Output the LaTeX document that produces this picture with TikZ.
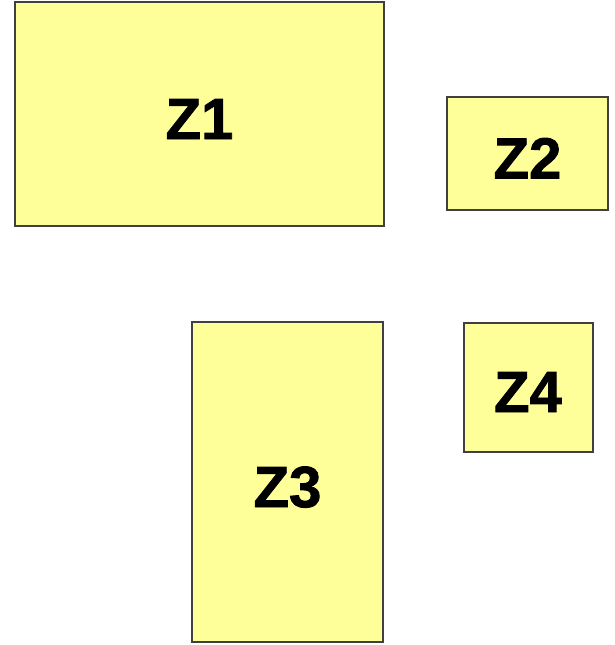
\documentclass[tikz,border=0pt]{standalone}
\usepackage{fontspec}
\setmainfont{Liberation Sans}[BoldFeatures={FakeBold=1.5}]
\definecolor{zone-fill}{HTML}{FFFF99}
\definecolor{zone-line}{HTML}{404040}

\begin{document}
\begin{tikzpicture}[x=1pt, y=-1pt,
    every node/.style={font=\fontsize{58}{60}\selectfont\bfseries},
    zone/.style={draw=zone-line, line width=2pt, fill=zone-fill,
      inner sep=0pt, text height=50pt, text depth=0pt}]
  \useasboundingbox (0, 0) rectangle (615, 645);
  \node[zone, minimum width=369pt, minimum height=224pt] (z1) at (199.5, 114) {Z1};
  \node[zone, minimum width=161pt, minimum height=113pt] (z2) at (527.5, 153.5) {Z2};
  \node[zone, minimum width=191pt, minimum height=320pt] (z3) at (287.5, 482) {Z3};
  \node[zone, minimum width=129pt, minimum height=129pt] (z4) at (528, 387) {Z4};
\end{tikzpicture}
\end{document}
